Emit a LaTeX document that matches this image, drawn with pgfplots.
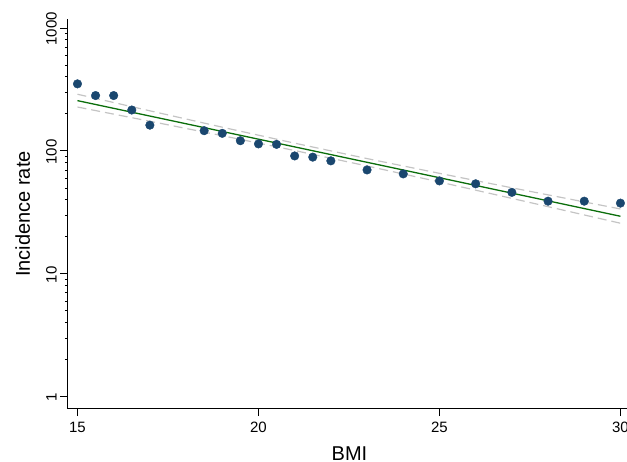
\documentclass[border=0pt]{standalone}
\usepackage{fontspec}
\setmainfont{Liberation Sans}
\usepackage{pgfplots}
\pgfplotsset{compat=1.18}
\definecolor{dotblue}{HTML}{1A476F}
\definecolor{fitgreen}{HTML}{0B6E0B}
\definecolor{cigray}{HTML}{C4C4C4}

\begin{document}
\begin{tikzpicture}
\begin{axis}[
    at={(0,0)}, anchor=south west,
    scale only axis,
    width=563.6pt, height=389.2pt,
    ymode=log,
    xmin=14.73, xmax=30.3,
    ymin=0.80, ymax=1172,
    axis lines*=left,
    axis line style={-, line width=1.1pt},
    xtick={15,20,25,30},
    ytick={1,10,100,1000},
    yticklabels={1,10,100,1000},
    minor ytick={},
    tick align=outside,
    major tick length=7.5pt,
    tick style={black, line width=0.8pt},
    ticklabel style={font=\fontsize{15}{15}\selectfont},
    /pgf/number format/assume math mode=true,
    xticklabel style={yshift=-2pt},
    yticklabel style={rotate=90, anchor=south, xshift=-1pt},
    xlabel={BMI},
    ylabel={Incidence rate},
    every axis x label/.style={at={(axis description cs:0.5,-0.1322)}, anchor=base,
        inner sep=0pt, font=\fontsize{20}{20}\selectfont},
    every axis y label/.style={at={(axis description cs:-0.0669,0.5)}, anchor=base,
        rotate=90, inner sep=0pt, font=\fontsize{20}{20}\selectfont},
    clip=false,
]
% 95% CI of the fit
\addplot[cigray, line width=1.2pt, dash pattern=on 9pt off 5pt]
    coordinates {
        (15,289) (17,211.9) (19,155.9) (21,115.6) (23,86.6) (25,65.7) (27,50.1) (30,33.7)
    };
\addplot[cigray, line width=1.2pt, dash pattern=on 9pt off 5pt]
    coordinates {
        (15,227.5) (17,174.3) (19,133.0) (21,100.7) (23,75.4) (25,55.9) (27,41.1) (30,25.8)
    };
% fitted line
\addplot[fitgreen, line width=1.3pt] coordinates {(15,256.4) (30,29.4)};
% observed rates
\addplot[only marks, mark=*, mark size=4.3pt, draw=dotblue, fill=dotblue]
    coordinates {
        (15,351) (15.5,282) (16,282) (16.5,215) (17,162)
        (18.5,146) (19,139) (19.5,121) (20,114) (20.5,113)
        (21,91) (21.5,89) (22,83) (23,70) (24,65)
        (25,57) (26,54) (27,46) (28,39) (29,39) (30,37.6)
    };
\end{axis}
\pgfresetboundingbox
\useasboundingbox (-67.7pt,-53.3pt) rectangle (559.3pt,408.7pt);
\end{tikzpicture}
\end{document}
